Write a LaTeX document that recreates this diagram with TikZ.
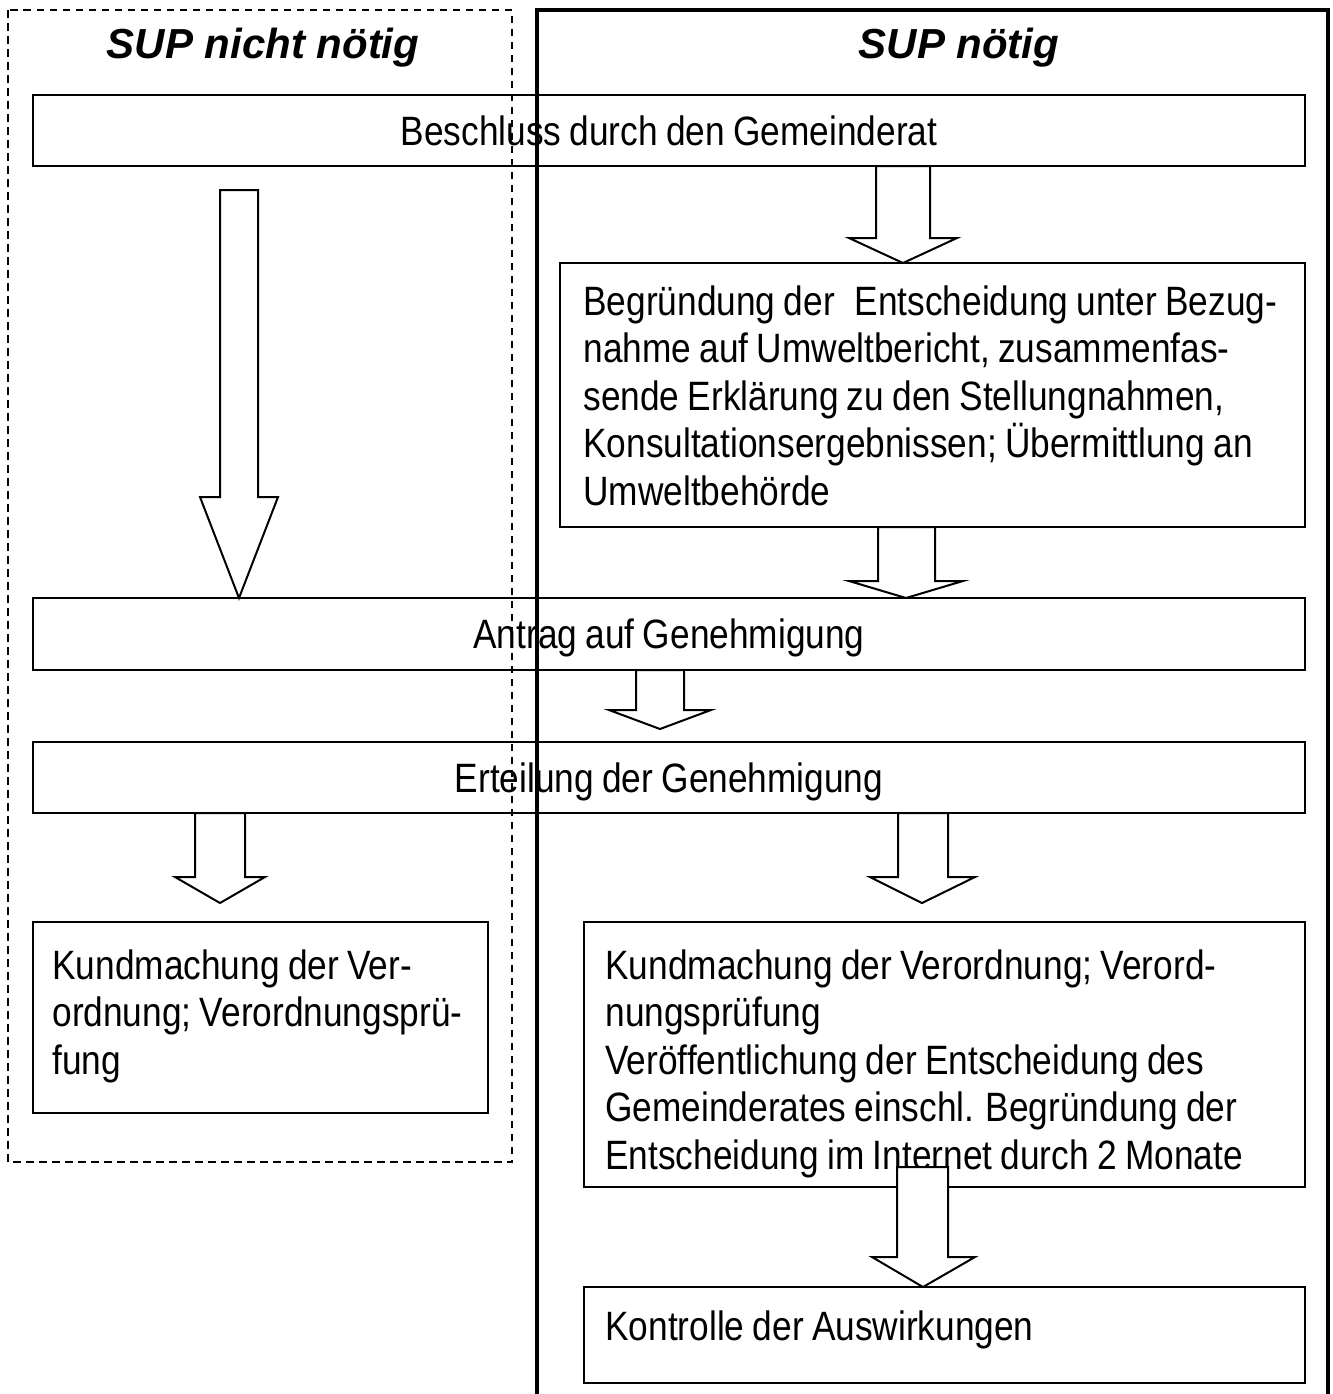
\documentclass[tikz,border=0pt]{standalone}
\usepackage{fontspec}
\setmainfont{Liberation Sans}
\newfontfamily\narrowf[FakeStretch=0.86,WordSpace=0.85]{Liberation Sans}
\newcommand\blockarrow[8]{% shaft l, shaft r, top y, shoulder y, head l, head r, tip x, tip y
  \draw[arrowshape] (#1,#3) -- (#1,#4) -- (#5,#4) -- (#7,#8) -- (#6,#4) -- (#2,#4) -- (#2,#3) -- cycle;}
\begin{document}
\begin{tikzpicture}[x=0.5pt,y=-0.5pt,
  box/.style={draw,line width=1pt},
  txt/.style={inner sep=0pt,font=\narrowf\fontsize{20.5}{23.75}\selectfont},
  mtxt/.style={txt,anchor=base west,align=flush left,text width=400pt},
  ctxt/.style={txt,anchor=base},
  title/.style={inner sep=0pt,anchor=base,font=\bfseries\itshape\fontsize{21}{24}\selectfont},
  arrowshape/.style={draw,fill=white,line width=1pt,line join=miter},
  dashframe/.style={draw,line width=1pt,dash pattern=on 3.75pt off 2.75pt},
  solidframe/.style={draw,line width=2.25pt,line join=miter}
  ]
\useasboundingbox (0,0) rectangle (1333,1394);
\fill[white] (0,0) rectangle (1333,1394);

% titles
\node[title] (t1) at (263,58) {SUP nicht nötig};
\node[title] (t2) at (959,58) {SUP nötig};

% boxes
\draw[box] (33,95) rectangle (1305,166);
\draw[box] (560,263) rectangle (1305,527);
\draw[box] (33,598) rectangle (1305,670);
\draw[box] (33,742) rectangle (1305,813);
\draw[box] (33,922) rectangle (488,1113);
\draw[box] (584,922) rectangle (1305,1187);
\draw[box] (584,1287) rectangle (1305,1383);

% texts
\node[ctxt] (b1) at (669,145) {Beschluss durch den Gemeinderat};
\node[mtxt] (b2) at (583,315) {Begründung der\hspace{10pt}Entscheidung unter Bezug-\\nahme auf Umweltbericht, zusammenfas-\\sende Erklärung zu den Stellungnahmen,\\Konsultationsergebnissen; Übermittlung an\\Umweltbehörde};
\node[ctxt] (b3) at (669,648) {Antrag auf Genehmigung};
\node[ctxt] (b4) at (669,792) {Erteilung der Genehmigung};
\node[mtxt] (b5) at (52,979) {Kundmachung der Ver-\\ordnung; Verordnungsprü-\\fung};
\node[mtxt] (b6) at (605,979) {Kundmachung der Verordnung; Verord-\\nungsprüfung\\Veröffentlichung der Entscheidung des\\Gemeinderates einschl. Begründung der\\Entscheidung im Internet durch 2 Monate};
\node[mtxt] (b7) at (605,1340) {Kontrolle der Auswirkungen};

% block arrows
\blockarrow{220}{258}{190}{497}{200}{278}{239}{598}
\blockarrow{876}{930}{166}{238}{849}{957}{903}{263}
\blockarrow{878}{935}{527}{581}{849}{963}{906}{598}
\blockarrow{636}{684}{670}{710}{609}{711}{660}{729}
\blockarrow{195}{245}{813}{877}{175}{265}{220}{903}
\blockarrow{898}{948}{813}{877}{870}{975}{922}{903}
\blockarrow{897}{948}{1167}{1257}{872}{975}{923}{1287}

% frames
\draw[dashframe] (8,10) rectangle (512,1162);
\draw[solidframe] (537,1420) -- (537,10) -- (1328,10) -- (1328,1420);
\end{tikzpicture}
\end{document}
